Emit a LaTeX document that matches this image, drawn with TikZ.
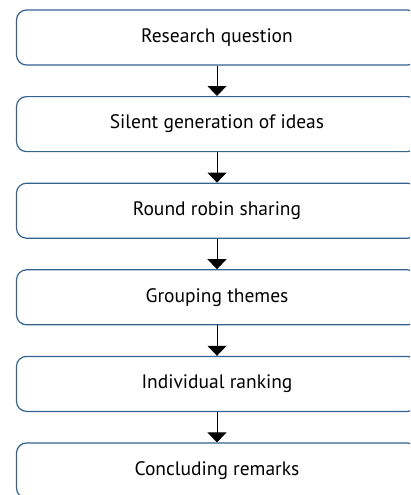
\documentclass[tikz,border=0pt]{standalone}
\usepackage{fontspec}
\setmainfont{PT Sans}
\usetikzlibrary{arrows.meta}
\definecolor{boxblue}{HTML}{34638F}
\tikzset{
  stepbox/.style={draw=boxblue, line width=1.2pt, rounded corners=10pt,
    minimum width=401pt, minimum height=55pt, inner sep=0pt,
    font=\fontsize{19.5}{22}\selectfont, text=black},
  flowarrow/.style={draw=black, line width=1pt,
    -{Triangle[width=19pt,length=10pt]}}
}
\begin{document}
\begin{tikzpicture}[x=1pt,y=-1pt]
\useasboundingbox (0,0) rectangle (410,495);
\clip (0,0) rectangle (410,495);
\node[stepbox] (a) at (217,37.5) {Research question};
\node[stepbox] (b) at (217,124.1) {Silent generation of ideas};
\node[stepbox] (c) at (217,210.7) {Round robin sharing};
\node[stepbox] (d) at (217,297.3) {Grouping themes};
\node[stepbox] (e) at (217,383.9) {Individual ranking};
\node[stepbox] (f) at (217,470.5) {Concluding remarks};
\draw[flowarrow] (a) -- (b);
\draw[flowarrow] (b) -- (c);
\draw[flowarrow] (c) -- (d);
\draw[flowarrow] (d) -- (e);
\draw[flowarrow] (e) -- (f);
\end{tikzpicture}
\end{document}
